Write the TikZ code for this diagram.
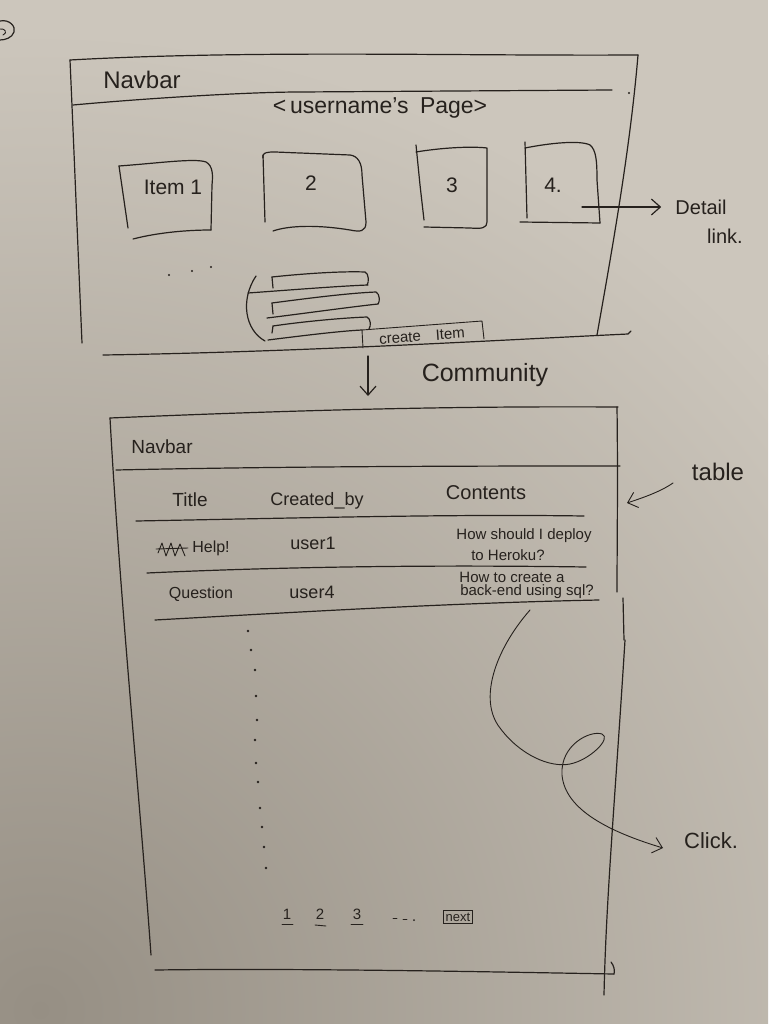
\documentclass[tikz,border=0pt]{standalone}
\usepackage{fontspec}
\setmainfont{Liberation Sans}
\usetikzlibrary{arrows.meta}
\definecolor{paper}{RGB}{204,198,188}
\definecolor{papershadow}{RGB}{150,143,132}
\definecolor{ink}{RGB}{38,33,29}

\begin{document}
\begin{tikzpicture}[x=1pt,y=-1pt,
  pen/.style={draw=ink,line width=1.2pt,line cap=round,line join=round},
  finepen/.style={draw=ink,line width=0.9pt,line cap=round,line join=round},
  hand/.style={text=ink,inner sep=1pt,font=\fontsize{#1}{#1}\selectfont},
  hand/.default=18,
  barb/.style={-{Straight Barb[length=9pt,width=16pt]}},
  inkdot/.style={fill=ink}
]
\useasboundingbox (0,0) rectangle (768,1024);

% paper with a soft shadow towards the lower left
\begin{scope}
  \clip (0,0) rectangle (768,1024);
  \fill[paper] (0,0) rectangle (768,1024);
  \shade[inner color=papershadow, outer color=paper] (40,1010) circle (980);
\end{scope}

% page number mark in the corner
\draw[pen] (0,21) .. controls (10,19) and (16,27) .. (14,32) .. controls (12,38) and (5,40) .. (0,40);
\draw[finepen] (0,29) .. controls (5,28) and (8,33) .. (3,35);

% ---------------- user page wireframe ----------------
\draw[pen] (70,60) .. controls (250,50) and (450,56) .. (638,55);
\draw[pen] (70,60) .. controls (74,150) and (78,250) .. (82,343);
\draw[pen] (638,55) .. controls (630,150) and (612,250) .. (597,335);
\draw[pen] (103,355) .. controls (300,352) and (500,340) .. (628,334) -- (631,331);
\draw[pen] (73,105) .. controls (150,98) and (250,92) .. (300,92) -- (612,90);
\fill[inkdot] (629,93) circle (1.2);

\node[hand=24] (nav1) at (142,80) {Navbar};
\node[hand=23] (upage) at (380,108) {<\,username's\enspace Page>};

% item cards
\draw[pen] (119,166) -- (128,228);
\draw[pen] (119,166) .. controls (160,163) and (195,158) .. (206,162) .. controls (213,166) and (213,175) .. (212,185) -- (211,230);
\draw[pen] (133,239) .. controls (160,232) and (190,230) .. (211,230);
\node[hand=21] (item1) at (173,187) {Item 1};

\draw[pen] (263,155) -- (265,222);
\draw[pen] (263,158) .. controls (262,150) and (270,152) .. (300,153) -- (350,155) .. controls (358,156) and (362,163) .. (362,175) -- (366,222) .. controls (366,232) and (360,232) .. (350,230) .. controls (320,225) and (290,225) .. (273,231);
\node[hand=21] (item2) at (311,183) {2};

\draw[pen] (416,145) -- (420,185) -- (424,220);
\draw[pen] (416,152) .. controls (440,148) and (470,146) .. (487,148) -- (487,222) .. controls (487,228) and (482,229) .. (470,228) -- (424,227);
\node[hand=21] (item3) at (452,185) {3};

\draw[pen] (525,142) -- (527,218);
\draw[pen] (525,148) .. controls (550,143) and (580,140) .. (590,145) .. controls (596,150) and (597,160) .. (597,180) -- (600,223);
\draw[pen] (520,222) -- (600,223);
\node[hand=21] (item4) at (553,185) {4.};

% detail link
\coordinate (dsrc) at (582,207);
\node[hand=20] (detail) at (701,207) {Detail};
\node[hand=20] (link) at (725,236) {link.};
\draw[pen,barb,shorten >=13pt] (dsrc) -- (detail.west);

% more items
\fill[inkdot] (169,275) circle (1.2);
\fill[inkdot] (192,271) circle (1.2);
\fill[inkdot] (211,267) circle (1.2);

% stacked item list
\draw[pen] (256,276) .. controls (240,300) and (245,330) .. (265,341);
\draw[pen] (272,277) .. controls (300,274) and (340,271) .. (365,272) .. controls (369,273) and (369,283) .. (367,285);
\draw[pen] (248,293) .. controls (290,290) and (340,286) .. (368,285);
\draw[pen] (272,277) -- (273,288);
\draw[pen] (272,303) .. controls (310,298) and (350,293) .. (376,292) .. controls (380,294) and (380,302) .. (378,304);
\draw[pen] (267,318) .. controls (300,314) and (350,307) .. (378,304);
\draw[pen] (272,303) -- (273,314);
\draw[pen] (273,326) .. controls (300,322) and (340,318) .. (367,317) .. controls (371,319) and (371,326) .. (369,329);
\draw[pen] (268,340) .. controls (300,336) and (340,331) .. (362,330);
\draw[pen] (273,326) -- (272,333);

% create button
\draw[finepen] (363,348) -- (362,330) -- (482,321) -- (484,339);
\node[hand=15,rotate=4] (create) at (422,336) {create\quad Item};

% navigation to the community page
\coordinate (navtop) at (368,356);
\coordinate (navbot) at (368,396);
\draw[pen,barb] (navtop) -- (navbot);
\node[hand=25] (comm) at (485,375) {Community};

% ---------------- community page wireframe ----------------
\draw[pen] (110,418) .. controls (300,410) and (450,406) .. (618,407);
\draw[pen] (110,418) .. controls (120,600) and (140,800) .. (151,955);
\draw[pen] (617,407) .. controls (618,480) and (617,550) .. (617,592);
\draw[pen] (623,598) -- (624,640);
\draw[pen] (625,640) .. controls (615,800) and (606,900) .. (604,995);
\draw[pen] (155,970) .. controls (300,968) and (500,972) .. (614,974);
\draw[pen] (611,962) .. controls (614,966) and (615,970) .. (614,974);
\draw[pen] (116,470) .. controls (300,466) and (500,466) .. (620,466);

\node[hand=19] (nav2) at (162,447) {Navbar};

% table header
\node[hand=19] (hTitle) at (190,500) {Title};
\node[hand=18] (hCreated) at (317,501) {Created\_by};
\node[hand=20] (hContents) at (486,493) {Contents};
\draw[pen] (136,521) .. controls (300,518) and (450,514) .. (584,516);

% row 1
\draw[finepen] (158,553) -- (162,543) -- (166,556) -- (171,543) -- (175,556) -- (180,544) -- (185,556);
\draw[finepen] (156,549) -- (188,548);
\node[hand=16] (help) at (211,548) {Help!};
\node[hand=18] (user1) at (313,543) {user1};
\node[hand=15] (q1a) at (524,536) {How should I deploy};
\node[hand=15] (q1b) at (508,555) {to Heroku?};
\draw[pen] (147,573) .. controls (300,566) and (450,565) .. (586,567);

% row 2
\node[hand=16] (question) at (201,594) {Question};
\node[hand=18] (user4) at (312,592) {user4};
\node[hand=15] (q2a) at (512,577) {How to create a};
\node[hand=15] (q2b) at (527,592) {back-end using sql?};
\draw[pen] (155,620) .. controls (300,612) and (450,603) .. (599,600);

% further rows
\foreach \px/\py in {248/631, 251/650, 255/670, 256/696, 257/720, 255/740,
                     256/763, 258/782, 260/808, 262/827, 264/847, 266/868}
  \fill[inkdot] (\px,\py) circle (1.3);

% pagination
\node[hand=15] (pg1) at (287,914) {1};
\node[hand=15] (pg2) at (320,914) {2};
\node[hand=15] (pg3) at (357,914) {3};
\draw[finepen] (282,924) -- (293,924);
\draw[finepen] (315,925) -- (326,926);
\draw[finepen] (351,924) -- (363,924);
\draw[finepen] (393,918) -- (397,918);
\draw[finepen] (403,919) -- (407,919);
\fill[inkdot] (414,920) circle (1);
\node[hand=13,draw=ink,line width=1pt,inner sep=2pt] (next) at (458,917) {next};

% table annotation
\node[hand=24] (tablelbl) at (718,472) {table};
\coordinate (tstart) at (673,483);
\coordinate (tend) at (627,503);
\draw[finepen,barb] (tstart) .. controls (660,492) and (642,498) .. (tend);

% click annotation
\coordinate (cstart) at (530,610);
\coordinate (cend) at (663,848);
\node[hand=22] (click) at (711,841) {Click.};
\draw[finepen,barb] (cstart) .. controls (495,650) and (478,700) .. (500,728)
  .. controls (520,755) and (550,768) .. (570,764)
  .. controls (590,760) and (612,738) .. (602,734)
  .. controls (590,730) and (560,745) .. (562,775)
  .. controls (565,810) and (610,832) .. (cend);

\end{tikzpicture}
\end{document}
